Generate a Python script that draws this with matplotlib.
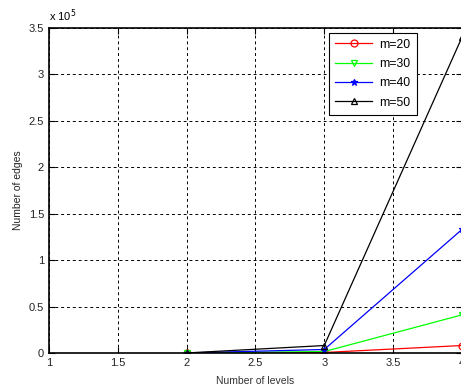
import matplotlib
matplotlib.use("Agg")
import matplotlib.pyplot as plt
from matplotlib.ticker import FuncFormatter, MultipleLocator

plt.rcParams["font.family"] = ["Liberation Sans", "DejaVu Sans"]

levels = [2, 3, 4]
edges_m20 = [0, 500, 8000]
edges_m30 = [0, 1500, 41000]
edges_m40 = [0, 3700, 133000]
edges_m50 = [0, 8000, 340000]

series = [
    ("m=20", edges_m20, "red", "o", "none"),
    ("m=30", edges_m30, "#00ff00", "v", "none"),
    ("m=40", edges_m40, "blue", "*", "blue"),
    ("m=50", edges_m50, "black", "^", "none"),
]

fig = plt.figure(figsize=(4.61, 3.90), dpi=100)
ax = fig.add_axes([0.106, 0.095, 0.896, 0.833])

for label, vals, col, mk, mfc in series:
    ax.plot(levels, vals, color=col, lw=0.9, marker=mk, ms=5,
            mfc=mfc, mec=col, mew=0.9, label=label)

ax.set_xlim(1, 4)
ax.set_ylim(0, 350000)
ax.xaxis.set_major_locator(MultipleLocator(0.5))
ax.yaxis.set_major_locator(MultipleLocator(50000))
ax.yaxis.set_major_formatter(FuncFormatter(lambda v, p: "%g" % (v / 1e5)))
ax.xaxis.set_major_formatter(FuncFormatter(lambda v, p: "%g" % v))
ax.tick_params(direction="in", labelsize=8, length=4, width=0.8, top=True, right=True,
               labelcolor="#222222")
ax.grid(True, color="black", linestyle=(0, (3, 3)), linewidth=0.7)
for s in ax.spines.values():
    s.set_linewidth(1.2)

ax.set_xlabel("Number of levels", fontsize=7.5, labelpad=6, color="#333333")
ax.set_ylabel("Number of edges", fontsize=7.5, labelpad=4, color="#222222")
ax.text(0.0, 1.012, "x 10$^5$", transform=ax.transAxes, fontsize=8, ha="left", va="bottom")

leg = ax.legend(loc="upper right", bbox_to_anchor=(0.905, 1.005), fontsize=8.8,
                fancybox=False, edgecolor="black", framealpha=1,
                handlelength=3.0, borderpad=0.5, labelspacing=0.6, handletextpad=0.6)
leg.get_frame().set_linewidth(0.8)

fig.savefig("out.png", dpi=100)
